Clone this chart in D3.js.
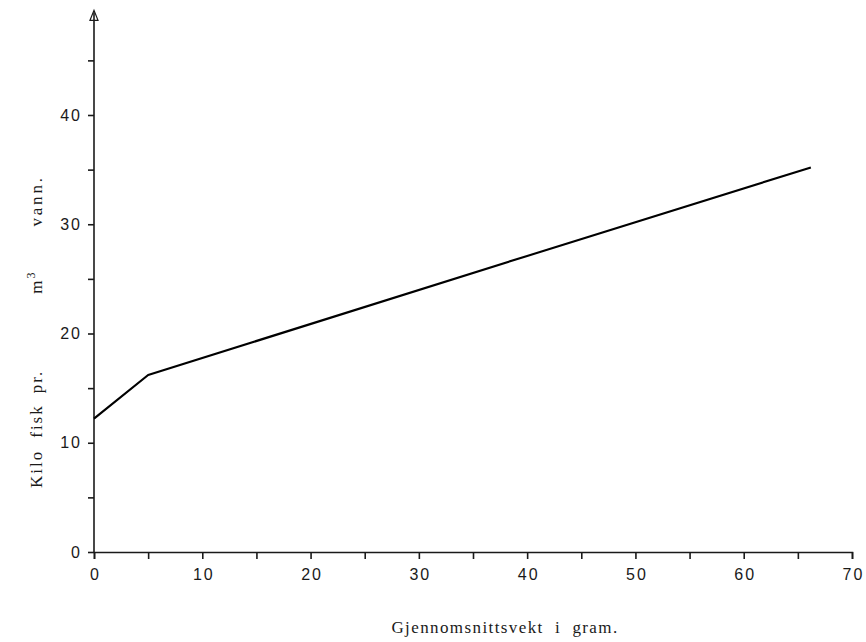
<!DOCTYPE html>
<html><head><meta charset="utf-8">
<script src="https://cdn.jsdelivr.net/npm/d3@7"></script>
<style>
body{margin:0;background:#fff;}
svg{display:block;}
</style></head>
<body>
<svg id="c" width="866" height="642"></svg>
<script>
// Data
const weights = [0, 5, 40, 66.2];          // Gjennomsnittsvekt (gram)
const density = [12.2, 16.2, 27.1, 35.2];  // Kilo fisk pr. m3 vann
const xTicks = [0,5,10,15,20,25,30,35,40,45,50,55,60,65,70];
const yTicks = [0,5,10,15,20,25,30,35,40,45];
const xTitle = "Gjennomsnittsvekt  i  gram.";
const yTitleWords = ["Kilo", "fisk", "pr.", "m", "3", "vann."];

const svg = d3.select("#c");
const x = d3.scaleLinear().domain([0,70]).range([94,852]);
const y = d3.scaleLinear().domain([0,40]).range([552,115]);
const ink = "#1a1a1a";
const sans = "Liberation Sans, Arial, sans-serif";
const serif = "Liberation Serif, DejaVu Serif, serif";

// X axis
const xAxis = d3.axisBottom(x).tickValues(xTicks).tickSize(7)
  .tickFormat(d => d % 10 === 0 ? d : "");
const gx = svg.append("g").attr("transform", `translate(0,${y(0)})`).call(xAxis);
gx.select(".domain").attr("stroke", ink).attr("stroke-width", 1.6);
gx.selectAll(".tick line").attr("stroke", ink).attr("stroke-width", 1.6);
gx.selectAll(".tick text").attr("fill", ink).attr("font-family", sans)
  .attr("font-size", 16).attr("letter-spacing", "2px").attr("dy", "1.1em").attr("dx", "1px");

// Y axis
const yAxis = d3.axisLeft(y).tickValues(yTicks).tickSize(6)
  .tickFormat(d => d % 10 === 0 ? d : "");
const gy = svg.append("g").attr("transform", `translate(${x(0)},0)`).call(yAxis);
gy.select(".domain").remove();
gy.selectAll(".tick line").attr("stroke", ink).attr("stroke-width", 1.6);
gy.selectAll(".tick text").attr("fill", ink).attr("font-family", sans)
  .attr("font-size", 16).attr("letter-spacing", "2px").attr("x", -12);

// Y axis line with arrow head
const yTop = y(49.4);
svg.append("line").attr("x1", x(0)).attr("x2", x(0)).attr("y1", y(0)).attr("y2", yTop)
  .attr("stroke", ink).attr("stroke-width", 1.6);
svg.append("path")
  .attr("d", `M${x(0)-4},${yTop+8} L${x(0)},${yTop-2} L${x(0)+4},${yTop+8} Z`)
  .attr("fill", "none").attr("stroke", ink).attr("stroke-width", 1.2);

// Data line
const pts = weights.map((w,i) => [w, density[i]]);
svg.append("path").datum(pts)
  .attr("d", d3.line().x(d => x(d[0])).y(d => y(d[1])))
  .attr("fill", "none").attr("stroke", "#000").attr("stroke-width", 2.2)
  .attr("stroke-linejoin", "round");

// Titles
svg.append("text").attr("x", 505).attr("y", 633).attr("text-anchor", "middle")
  .attr("font-family", serif).attr("font-size", 17)
  .attr("letter-spacing", "1.4px").attr("fill", ink).style("white-space", "pre")
  .text(xTitle);

const yt = svg.append("text").attr("transform", "translate(42,488) rotate(-90)")
  .attr("text-anchor", "start").attr("font-family", serif)
  .attr("font-size", 17).attr("letter-spacing", "2px").attr("fill", ink);
yt.append("tspan").text(yTitleWords[0]);
yt.append("tspan").attr("dx", 12).text(yTitleWords[1]);
yt.append("tspan").attr("dx", 11).text(yTitleWords[2]);
yt.append("tspan").attr("dx", 76).text(yTitleWords[3]);
yt.append("tspan").attr("font-size", 12).attr("dy", -7).text(yTitleWords[4]);
yt.append("tspan").attr("dx", 44).attr("dy", 7).attr("letter-spacing", "2.8px").text(yTitleWords[5]);
</script>
</body></html>
